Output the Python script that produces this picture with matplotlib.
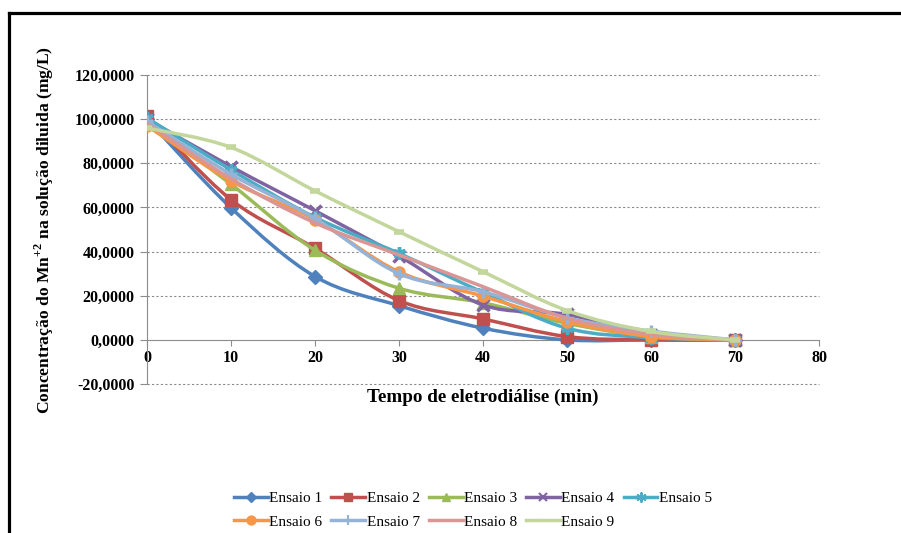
import numpy as np
import matplotlib
matplotlib.use("Agg")
import matplotlib.pyplot as plt
from matplotlib.path import Path
from matplotlib.patches import PathPatch
from matplotlib.lines import Line2D

plt.rcParams['font.family'] = ['Liberation Serif', 'DejaVu Serif']
plt.rcParams['mathtext.fontset'] = 'custom'
plt.rcParams['mathtext.rm'] = 'Liberation Serif:bold'
plt.rcParams['mathtext.bf'] = 'Liberation Serif:bold'

# tempo (min)
tempo = [0, 10, 20, 30, 40, 50, 60, 70]

# concentração de Mn+2 (mg/L) por ensaio
ensaio1 = [100.0, 59.8, 28.7, 15.5, 5.3, 0.0, 0.0, 0.0]
ensaio2 = [101.5, 63.5, 41.5, 17.8, 9.5, 1.5, 0.0, 0.0]
ensaio3 = [98.5, 70.5, 40.6, 23.4, 16.8, 7.5, 1.5, 0.0]
ensaio4 = [100.0, 78.5, 58.5, 38.0, 15.8, 11.5, 2.0, 0.0]
ensaio5 = [100.5, 77.0, 55.5, 39.2, 21.5, 5.3, 1.0, 0.0]
ensaio6 = [97.0, 72.0, 54.5, 30.8, 19.8, 8.3, 1.5, 0.0]
ensaio7 = [99.0, 75.0, 55.0, 30.0, 21.8, 10.0, 4.0, 0.0]
ensaio8 = [98.0, 73.0, 53.0, 38.5, 24.1, 9.8, 2.5, 0.0]
ensaio9 = [96.0, 87.2, 67.5, 49.0, 30.9, 13.3, 3.8, 0.0]

nomes = ['Ensaio 1', 'Ensaio 2', 'Ensaio 3', 'Ensaio 4', 'Ensaio 5',
         'Ensaio 6', 'Ensaio 7', 'Ensaio 8', 'Ensaio 9']
series = [ensaio1, ensaio2, ensaio3, ensaio4, ensaio5,
          ensaio6, ensaio7, ensaio8, ensaio9]

cores = ['#4F81BD', '#C0504D', '#9BBB59', '#8064A2', '#4BACC6',
         '#F79646', '#95B3D7', '#D99694', '#C3D69B']
marcadores = ['D', 's', '^', 'x', (6, 2, 0), 'o', '+', 'None', '_']
tamanhos = [7, 8, 8, 8, 9, 8, 9, 0, 7]


def curva_suave(x, y):
    # bezier no estilo "linhas suavizadas" do Excel
    pts = np.column_stack([x, y]).astype(float)
    n = len(pts)
    verts = [pts[0]]
    codes = [Path.MOVETO]
    for i in range(n - 1):
        p0 = pts[i - 1] if i > 0 else pts[i]
        p1 = pts[i]
        p2 = pts[i + 1]
        p3 = pts[i + 2] if i + 2 < n else pts[i + 1]
        c1 = p1 + (p2 - p0) / 6.0
        c2 = p2 - (p3 - p1) / 6.0
        verts += [c1, c2, p2]
        codes += [Path.CURVE4] * 3
    return Path(verts, codes)


fig = plt.figure(figsize=(9.01, 5.33), dpi=100)
ax = fig.add_axes([0.1632, 0.2795, 0.7458, 0.5798])

handles = []
for i, (nome, y) in enumerate(zip(nomes, series)):
    patch = PathPatch(curva_suave(tempo, y), fill=False, edgecolor=cores[i],
                      lw=2.5, zorder=2 + i * 0.1, capstyle='round')
    ax.add_patch(patch)
    mew = 2.5 if marcadores[i] in ('x', '+', '_') or isinstance(marcadores[i], tuple) else 1
    if marcadores[i] == '_':
        mew = 4
    ax.plot(tempo, y, linestyle='None', marker=marcadores[i], ms=tamanhos[i],
            color=cores[i], mec=cores[i], mew=mew, zorder=2.05 + i * 0.1)
    h = Line2D([], [], color=cores[i], lw=2.5, marker=marcadores[i],
               ms=tamanhos[i] * 0.8, mec=cores[i], mew=min(mew, 1.5))
    handles.append(h)

ax.set_xlim(0, 80)
ax.set_ylim(-20, 120)
ax.set_xticks(range(0, 81, 10))
ax.set_yticks(range(-20, 121, 20))
ax.set_yticklabels([f"{v},0000" for v in range(-20, 121, 20)])

for v in range(-20, 121, 20):
    if v != 0:
        ax.axhline(v, color='#8C8C8C', lw=0.8, linestyle=(0, (2, 2)),
                   zorder=1, clip_on=False)
for s in ['top', 'right']:
    ax.spines[s].set_visible(False)
ax.spines['bottom'].set_position(('data', 0))
ax.spines['bottom'].set_color('#8C8C8C')
ax.spines['left'].set_color('#8C8C8C')
ax.spines['bottom'].set_zorder(1.5)
ax.tick_params(axis='y', length=5, color='#8C8C8C', labelsize=11.5, pad=4)
ax.tick_params(axis='x', length=4, color='#8C8C8C', labelsize=11.5, pad=3)
for lab in ax.get_xticklabels() + ax.get_yticklabels():
    lab.set_fontweight('bold')

ax.set_xlabel('Tempo de eletrodiálise (min)', fontsize=13.8, fontweight='bold')
ax.xaxis.set_label_coords(0.499, -0.015)
ax.set_ylabel('Concentração do Mn$^{+2}$ na solução diluida (mg/L)',
              fontsize=12.6, fontweight='bold')
ax.yaxis.set_label_coords(-0.136, 0.5)

ordem = [0, 5, 1, 6, 2, 7, 3, 8, 4]
fig.legend([handles[k] for k in ordem], [nomes[k] for k in ordem],
           loc='center', bbox_to_anchor=(0.525, 0.043), ncol=5, frameon=False,
           fontsize=11, handlelength=2.2, handletextpad=0.1,
           columnspacing=0.6, labelspacing=0.65)

# moldura do gráfico
fig.add_artist(Line2D([0.0105, 0.0105], [0.0, 0.9756], color='black', lw=2.3,
                      transform=fig.transFigure))
fig.add_artist(Line2D([0.0105, 1.0], [0.9756, 0.9756], color='black', lw=2.3,
                      transform=fig.transFigure))

fig.savefig('out.png', dpi=100)
